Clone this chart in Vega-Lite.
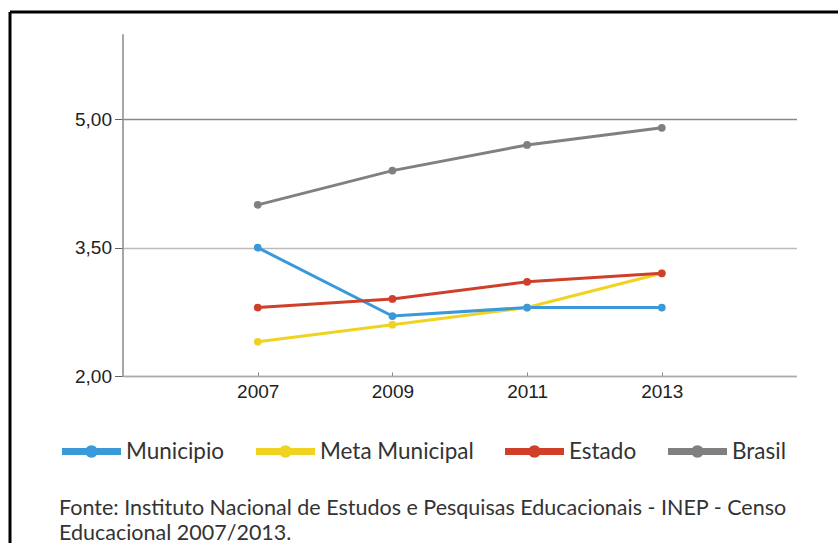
{
  "$schema": "https://vega.github.io/schema/vega-lite/v6.json",
  "width": 828,
  "height": 531,
  "autosize": {"type": "none"},
  "padding": {"left": 10, "top": 12, "right": 0, "bottom": 0},
  "background": "white",
  "view": {"stroke": "black", "strokeWidth": 3, "strokeDash": [828, 1359, 531, 0]},
  "title": {
    "text": ["Fonte: Instituto Nacional de Estudos e Pesquisas Educacionais - INEP - Censo", "Educacional 2007/2013."],
    "orient": "bottom",
    "anchor": "start",
    "frame": "group",
    "offset": -45,
    "dx": 49,
    "font": "Lato",
    "fontSize": 21.5,
    "fontWeight": "normal",
    "color": "#333333",
    "lineHeight": 24.5,
    "baseline": "top"
  },
  "data": {
    "values": [
      {"serie": "Brasil", "ano": 2007, "valor": 4.0},
      {"serie": "Brasil", "ano": 2009, "valor": 4.4},
      {"serie": "Brasil", "ano": 2011, "valor": 4.7},
      {"serie": "Brasil", "ano": 2013, "valor": 4.9},
      {"serie": "Meta Municipal", "ano": 2007, "valor": 2.4},
      {"serie": "Meta Municipal", "ano": 2009, "valor": 2.6},
      {"serie": "Meta Municipal", "ano": 2011, "valor": 2.8},
      {"serie": "Meta Municipal", "ano": 2013, "valor": 3.2},
      {"serie": "Municipio", "ano": 2007, "valor": 3.5},
      {"serie": "Municipio", "ano": 2009, "valor": 2.7},
      {"serie": "Municipio", "ano": 2011, "valor": 2.8},
      {"serie": "Municipio", "ano": 2013, "valor": 2.8},
      {"serie": "Estado", "ano": 2007, "valor": 2.8},
      {"serie": "Estado", "ano": 2009, "valor": 2.9},
      {"serie": "Estado", "ano": 2011, "valor": 3.1},
      {"serie": "Estado", "ano": 2013, "valor": 3.2}
    ]
  },
  "encoding": {
    "x": {
      "field": "ano",
      "type": "quantitative",
      "scale": {"domain": [2005, 2015], "range": [113, 786.5], "nice": false, "zero": false},
      "axis": {
        "values": [2007, 2009, 2011, 2013],
        "format": "d",
        "title": null,
        "orient": "bottom",
        "offset": -167,
        "grid": false,
        "domainColor": "#aaaaaa",
        "domainWidth": 1.5,
        "tickColor": "#888888",
        "tickSize": -4,
        "labelPadding": 10,
        "labelFont": "Liberation Sans",
        "labelFontSize": 19,
        "labelColor": "#222222"
      }
    },
    "y": {
      "field": "valor",
      "type": "quantitative",
      "scale": {"domain": [2, 6], "range": [364, 21.7], "nice": false, "zero": false},
      "axis": {
        "values": [2, 3.5, 5],
        "labelExpr": "replace(format(datum.value, '.2f'), '.', ',')",
        "title": null,
        "orient": "left",
        "offset": -112.5,
        "grid": true,
        "gridColor": {"condition": {"test": "datum.value === 5", "value": "#888888"}, "value": "#bbbbbb"},
        "gridWidth": 1.5,
        "domainColor": "#888888",
        "domainWidth": 1.5,
        "tickColor": "#666666",
        "tickSize": 8,
        "labelPadding": 3,
        "labelFont": "Liberation Sans",
        "labelFontSize": 19,
        "labelColor": "#222222"
      }
    }
  },
  "layer": [
    {
      "mark": {"type": "line", "strokeWidth": 3},
      "encoding": {
        "stroke": {
          "field": "serie",
          "type": "nominal",
          "scale": {"domain": ["Municipio", "Meta Municipal", "Estado", "Brasil"], "range": ["#3a9ad9", "#f0d320", "#cf3f2a", "#808080"]}
        }
      }
    },
    {
      "mark": {"type": "point", "filled": true, "opacity": 1, "size": 60},
      "encoding": {
        "fill": {
          "field": "serie",
          "type": "nominal",
          "scale": {"domain": ["Municipio", "Meta Municipal", "Estado", "Brasil"], "range": ["#3a9ad9", "#f0d320", "#cf3f2a", "#808080"]},
          "legend": {
            "orient": "none",
            "legendX": 52,
            "legendY": 410,
            "direction": "horizontal",
            "title": null,
            "symbolType": "M-1,-0.12H1V0.12H-1Z M0.21,0A0.21,0.21,0,1,1,-0.21,0A0.21,0.21,0,1,1,0.21,0Z",
            "symbolSize": 3481,
            "symbolStrokeWidth": 0,
            "symbolOpacity": 1,
            "labelFont": "Lato",
            "labelFontSize": 22.5,
            "labelColor": "#333333",
            "labelOffset": 5,
            "labelExpr": "datum.label === 'Meta Municipal' ? ' Meta Municipal' : datum.label",
            "columnPadding": 31,
            "labelLimit": 300
          }
        }
      }
    }
  ]
}
